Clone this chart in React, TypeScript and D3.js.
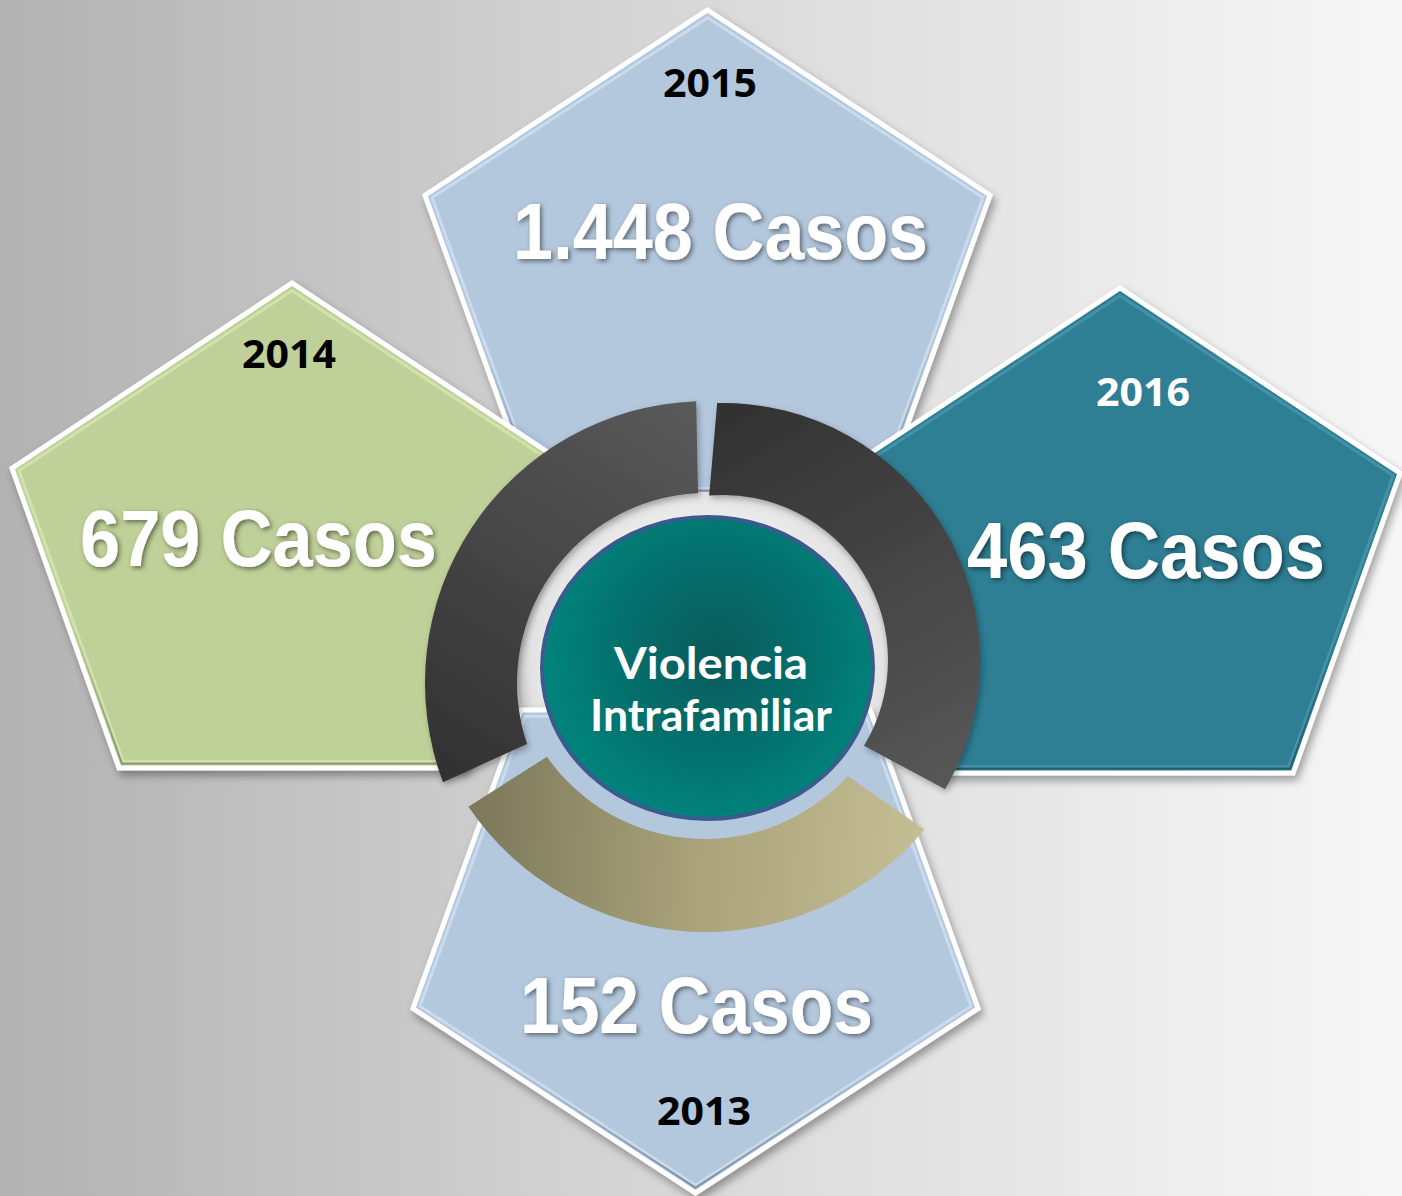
import React from 'react';
import * as d3 from 'd3';

// ---------- data ----------
const years = ['2013', '2014', '2015', '2016'];
const cases = [152, 679, 1448, 463];
const unitLabel = 'Casos';
const centerTitle = ['Violencia', 'Intrafamiliar'];

// ---------- layout (positions / styles, not data) ----------
const W = 1402;
const H = 1196;

type Box = {
  x: number; y: number; w: number; h: number; dir: 'up' | 'down';
  yearX: number; yearY: number; yearColor: string;
  valX: number; valY: number; valW: number;
};

const boxes: Record<string, Box> = {
  '2015': { x: 425, y: 10, w: 565, h: 485, dir: 'up', yearX: 710, yearY: 97, yearColor: '#000', valX: 720.5, valY: 259, valW: 415 },
  '2014': { x: 12, y: 283, w: 560, h: 485, dir: 'up', yearX: 289, yearY: 368, yearColor: '#000', valX: 258.5, valY: 566, valW: 357 },
  '2016': { x: 840, y: 288, w: 560, h: 485, dir: 'up', yearX: 1143, yearY: 406, yearColor: '#fff', valX: 1146, valY: 578, valW: 358 },
  '2013': { x: 413, y: 710, w: 565, h: 483, dir: 'down', yearX: 704, yearY: 1125, yearColor: '#000', valX: 696.5, valY: 1033, valW: 353 },
};

const fillColor = d3.scaleOrdinal<string, string>()
  .domain(['2013', '2014', '2015', '2016'])
  .range(['#b3c7dd', '#bfd098', '#b3c7dd', '#2e7e94']);

const bevelColor = d3.scaleOrdinal<string, string>()
  .domain(['2013', '2014', '2015', '2016'])
  .range(['#cfe0f3', '#d6e6b3', '#cfe0f3', '#4a97ad']);

const drawOrder = ['2015', '2014', '2016'];

const upPts: [number, number][] = [[0.5, 0], [1, 0.382], [0.809, 1], [0.191, 1], [0, 0.382]];
const downPts: [number, number][] = [[0.191, 0], [0.809, 0], [1, 0.618], [0.5, 1], [0, 0.618]];

function pentagon(b: Box, inset = 0): [number, number][] {
  const pts = b.dir === 'up' ? upPts : downPts;
  const cx = b.x + b.w / 2;
  const cy = b.y + (b.dir === 'up' ? b.h * 0.55 : b.h * 0.45);
  return pts.map(([u, v]) => {
    const px = b.x + u * b.w;
    const py = b.y + v * b.h;
    const sx = 1 - (2 * inset) / b.w;
    const sy = 1 - (2 * inset) / b.h;
    return [cx + (px - cx) * sx, cy + (py - cy) * sy];
  });
}

const line = d3.line<[number, number]>().curve(d3.curveLinearClosed);

const rad = (deg: number) => ((deg - 90) * Math.PI) / 180;

function ringPath(cx: number, cy: number, rIn: number, rOut: number,
  a0o: number, a1o: number, a0i: number, a1i: number): string {
  const p = d3.path();
  p.moveTo(cx + rOut * Math.cos(rad(a0o)), cy + rOut * Math.sin(rad(a0o)));
  p.arc(cx, cy, rOut, rad(a0o), rad(a1o), false);
  p.lineTo(cx + rIn * Math.cos(rad(a1i)), cy + rIn * Math.sin(rad(a1i)));
  p.arc(cx, cy, rIn, rad(a1i), rad(a0i), true);
  p.closePath();
  return p.toString();
}

const esLocale = d3.formatLocale({ decimal: ',', thousands: '.', grouping: [3], currency: ['$', ''] });
const fmt = esLocale.format(',d');

function Pentagon({ year }: { year: string }) {
  const b = boxes[year];
  const outer = pentagon(b);
  const inner = pentagon(b, 7);
  return (
    <g>
      <path d={line(outer) || ''} fill={fillColor(year)} stroke="#ffffff" strokeWidth={5}
        strokeLinejoin="miter" filter="url(#pShadow)" />
      <path d={line(inner) || ''} fill="none" stroke={bevelColor(year)} strokeWidth={3} opacity={0.8} />
      <path d={line(pentagon(b, 5)) || ''} fill="none" stroke="url(#bevelDark)" strokeWidth={2} opacity={0.5} />
      <text x={b.yearX} y={b.yearY} textAnchor="middle" fill={b.yearColor}
        fontFamily="'Noto Sans', 'Open Sans', sans-serif" fontWeight={700} fontSize={40}
        textLength={94} lengthAdjust="spacingAndGlyphs">{year}</text>
    </g>
  );
}

function ValueLabel({ year }: { year: string }) {
  const b = boxes[year];
  const i = years.indexOf(year);
  return (
    <text x={b.valX} y={b.valY} textAnchor="middle" fill="#ffffff" filter="url(#tShadow)"
      fontFamily="'Liberation Sans', Arial, sans-serif" fontWeight={700} fontSize={80}
      textLength={b.valW} lengthAdjust="spacingAndGlyphs">
      {`${fmt(cases[i])} ${unitLabel}`}
    </text>
  );
}

export default function App() {
  const leftArc = ringPath(707, 683, 190, 282, -110.6, -2.2, -108.7, -2.7);
  const rightArc = ringPath(723, 660, 165, 257, -1.3, 120.2, -4.8, 121.3);
  const tanArc = ringPath(705, 646, 193, 286, 129.9, 235.8, 132.3, 235.0);

  return (
    <svg width={W} height={H} viewBox={`0 0 ${W} ${H}`}
      style={{ position: 'absolute', left: 0, top: 0, display: 'block' }}>
      <defs>
        <linearGradient id="bg" x1="0" y1="0" x2="1" y2="0">
          <stop offset="0" stopColor="#b2b2b2" />
          <stop offset="0.5" stopColor="#d9d9d9" />
          <stop offset="1" stopColor="#f7f7f7" />
        </linearGradient>
        <linearGradient id="bevelDark" x1="0" y1="0" x2="0" y2="1">
          <stop offset="0" stopColor="#ffffff" stopOpacity={0} />
          <stop offset="0.7" stopColor="#000000" stopOpacity={0} />
          <stop offset="1" stopColor="#000000" stopOpacity={0.6} />
        </linearGradient>
        <linearGradient id="leftArcG" gradientUnits="userSpaceOnUse" x1="450" y1="800" x2="700" y2="400">
          <stop offset="0" stopColor="#303030" />
          <stop offset="1" stopColor="#5a5a5a" />
        </linearGradient>
        <linearGradient id="rightArcG" gradientUnits="userSpaceOnUse" x1="720" y1="400" x2="940" y2="790">
          <stop offset="0" stopColor="#313131" />
          <stop offset="1" stopColor="#575757" />
        </linearGradient>
        <linearGradient id="tanArcG" gradientUnits="userSpaceOnUse" x1="470" y1="800" x2="925" y2="830">
          <stop offset="0" stopColor="#7b775a" />
          <stop offset="0.5" stopColor="#a9a27a" />
          <stop offset="1" stopColor="#c6be93" />
        </linearGradient>
        <radialGradient id="discG" gradientUnits="userSpaceOnUse" cx="707" cy="668" r="190">
          <stop offset="0.8" stopColor="#ececec" />
          <stop offset="0.93" stopColor="#e2e2e2" />
          <stop offset="1" stopColor="#c4c4c4" />
        </radialGradient>
        <radialGradient id="tealG" gradientUnits="userSpaceOnUse" cx="716" cy="652" r="175">
          <stop offset="0" stopColor="#0a5a5a" />
          <stop offset="0.55" stopColor="#04706d" />
          <stop offset="1" stopColor="#00847c" />
        </radialGradient>
        <filter id="pShadow" x="-10%" y="-10%" width="125%" height="125%">
          <feDropShadow dx="3" dy="5" stdDeviation="4" floodColor="#000" floodOpacity="0.35" />
        </filter>
        <filter id="aShadow" x="-10%" y="-10%" width="125%" height="125%">
          <feDropShadow dx="2" dy="3" stdDeviation="3" floodColor="#000" floodOpacity="0.3" />
        </filter>
        <filter id="tShadow" x="-10%" y="-20%" width="125%" height="150%">
          <feDropShadow dx="2" dy="2" stdDeviation="2.5" floodColor="#000" floodOpacity="0.5" />
        </filter>
      </defs>

      <rect x={0} y={0} width={W} height={H} fill="url(#bg)" />

      {drawOrder.map((y) => <Pentagon key={y} year={y} />)}

      <ellipse cx={707} cy={668} rx={190} ry={176} fill="url(#discG)" />

      <Pentagon year="2013" />

      <path d={leftArc} fill="url(#leftArcG)" filter="url(#aShadow)" />
      <path d={rightArc} fill="url(#rightArcG)" filter="url(#aShadow)" />
      <path d={tanArc} fill="url(#tanArcG)" />

      <ellipse cx={707.5} cy={668} rx={165.5} ry={151} fill="url(#tealG)" stroke="#3b5b8e" strokeWidth={4} />

      {centerTitle.map((t, k) => (
        <text key={t} x={711} y={679 + k * 52} textAnchor="middle" fill="#ffffff"
          fontFamily="Lato, 'Noto Sans', sans-serif" fontWeight={700} fontSize={43}
          textLength={k === 0 ? 194 : 242} lengthAdjust="spacingAndGlyphs">{t}</text>
      ))}

      {years.map((y) => <ValueLabel key={y} year={y} />)}
    </svg>
  );
}
